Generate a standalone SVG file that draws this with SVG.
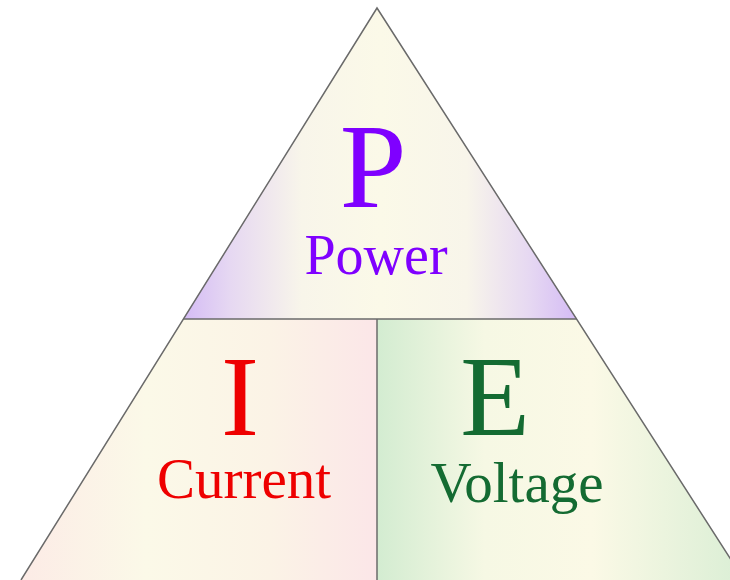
<svg xmlns="http://www.w3.org/2000/svg" width="730" height="580" viewBox="0 0 730 580">
  <style>
    .big { font-family: "Liberation Serif", "Times New Roman", serif; text-anchor: middle; }
    .edge { fill: none; stroke: #6a6a6a; stroke-width: 1.5; }
  </style>
  <defs>
    <linearGradient id="gTop" gradientUnits="userSpaceOnUse" x1="183" y1="0" x2="577" y2="0">
      <stop offset="0" stop-color="#d4bbf5"/>
      <stop offset="0.12" stop-color="#e6d8f2"/>
      <stop offset="0.3" stop-color="#f8f5ea"/>
      <stop offset="0.5" stop-color="#fbf9e8"/>
      <stop offset="0.72" stop-color="#f8f5ea"/>
      <stop offset="0.88" stop-color="#e6d8f2"/>
      <stop offset="1" stop-color="#d4bbf5"/>
    </linearGradient>
    <linearGradient id="gLeft" gradientUnits="userSpaceOnUse" x1="21" y1="0" x2="377" y2="0">
      <stop offset="0" stop-color="#fcebe6"/>
      <stop offset="0.35" stop-color="#fbf9e8"/>
      <stop offset="0.7" stop-color="#fbf3e6"/>
      <stop offset="1" stop-color="#fbe6e8"/>
    </linearGradient>
    <linearGradient id="gRight" gradientUnits="userSpaceOnUse" x1="377" y1="0" x2="735" y2="0">
      <stop offset="0" stop-color="#d3ecd1"/>
      <stop offset="0.3" stop-color="#f6f8e4"/>
      <stop offset="0.6" stop-color="#fbf9e6"/>
      <stop offset="1" stop-color="#dcefd6"/>
    </linearGradient>
  </defs>
  <rect width="730" height="580" fill="#ffffff"/>

  <g id="power">
    <polygon points="377,8 577,319 183,319" fill="url(#gTop)"/>
    <text class="big" x="373" y="207" font-size="120" fill="#7f00ff">P</text>
    <text class="big" x="376" y="274" font-size="56" fill="#7f00ff">Power</text>
  </g>

  <g id="current">
    <polygon points="183,319 377,319 377,580 21,580" fill="url(#gLeft)"/>
    <text class="big" x="240" y="435" font-size="114" fill="#ee0000">I</text>
    <text class="big" x="244" y="498" font-size="57" fill="#ee0000">Current</text>
  </g>

  <g id="voltage">
    <polygon points="377,319 577,319 744,580 377,580" fill="url(#gRight)"/>
    <text class="big" x="495" y="435" font-size="114" fill="#146b32">E</text>
    <text class="big" x="517" y="502" font-size="57" fill="#146b32">Voltage</text>
  </g>

  <g id="connectors">
    <polyline class="edge" points="21,580 377,8 744,580"/>
    <line class="edge" x1="183" y1="319" x2="577" y2="319"/>
    <line class="edge" x1="377" y1="319" x2="377" y2="580"/>
  </g>
</svg>
